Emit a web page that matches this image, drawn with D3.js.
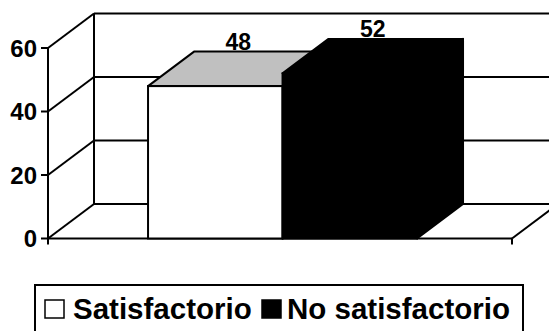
<!DOCTYPE html>
<html><head><meta charset="utf-8">
<script src="https://cdn.jsdelivr.net/npm/d3@7"></script>
<style>
html,body{margin:0;padding:0;background:#fff;overflow:hidden}
text{font-family:"Liberation Sans",Arial,sans-serif;font-weight:bold;fill:#000}
</style></head>
<body>
<svg id="c" width="549" height="331"></svg>
<script>
const categories = ["Resultado"];
const series = ["Satisfactorio", "No satisfactorio"];
const values = [48, 52];
const yTicks = [0, 20, 40, 60];
const seriesFront = ["#ffffff", "#000000"];
const seriesTop = ["#c0c0c0", "#000000"];
const seriesLegend = ["#ffffff", "#000000"];

const svg = d3.select("#c");
const frontL = 48, frontR = 512;
const dx = 46, dy = -34.5;

const y = d3.scaleLinear().domain([0, 60]).range([238.5, 48]);
const x0 = d3.scaleBand().domain(categories).range([frontL, frontR]).paddingInner(0).paddingOuter(0.3625).align(0.513);
const x1 = d3.scaleBand().domain(series).range([0, x0.bandwidth()]);

const g = svg.append("g");
const line = (x1_, y1_, x2_, y2_, sw) => g.append("line").attr("x1", x1_).attr("y1", y1_).attr("x2", x2_).attr("y2", y2_)
  .attr("stroke", "#000").attr("stroke-width", sw || 2);

// back wall gridlines
yTicks.forEach(t => line(frontL + dx, y(t) + dy, frontR + dx, y(t) + dy));
// back wall left vertical
line(frontL + dx, y(60) + dy, frontL + dx, y(0) + dy);
// left wall diagonals
yTicks.forEach(t => line(frontL, y(t), frontL + dx, y(t) + dy));
// front axis
line(frontL, y(60), frontL, y(0) + 6);
// ticks
yTicks.forEach(t => line(frontL - 7, y(t), frontL, y(t)));
// floor front & right edge
line(frontL, y(0), frontR, y(0));
line(frontR, y(0), frontR, y(0) + 6);
line(frontR, y(0), frontR + dx, y(0) + dy);

// tick labels
g.selectAll("text.tick").data(yTicks).enter().append("text")
  .attr("class", "tick")
  .attr("x", 37).attr("y", d => y(d)).attr("dy", "0.36em")
  .attr("text-anchor", "end").attr("font-size", 24)
  .text(d => d);

// bars
const cat = categories[0];
series.forEach((s, i) => {
  const xl = x0(cat) + x1(s), xr = xl + x1.bandwidth();
  const yt = y(values[i]), yb = y(0);
  const bg = g.append("g");
  bg.append("path").attr("d", `M${xr},${yb}L${xr},${yt}L${xr + dx},${yt + dy}L${xr + dx},${yb + dy}Z`)
    .attr("fill", seriesTop[i]).attr("stroke", "#000").attr("stroke-width", 2).attr("stroke-linejoin", "round");
  bg.append("path").attr("d", `M${xl},${yt}L${xr},${yt}L${xr + dx},${yt + dy}L${xl + dx},${yt + dy}Z`)
    .attr("fill", seriesTop[i]).attr("stroke", "#000").attr("stroke-width", 2).attr("stroke-linejoin", "round");
  bg.append("rect").attr("x", xl).attr("y", yt).attr("width", xr - xl).attr("height", yb - yt)
    .attr("fill", seriesFront[i]).attr("stroke", "#000").attr("stroke-width", 2);
});

// value labels
series.forEach((s, i) => {
  const xc = x0(cat) + x1(s) + x1.bandwidth() / 2 + dx / 2;
  g.append("text").attr("x", xc).attr("y", y(values[i]) + dy - 2)
    .attr("text-anchor", "middle").attr("font-size", 23).text(values[i]);
});

// legend
const lg = svg.append("g");
lg.append("rect").attr("x", 35).attr("y", 285).attr("width", 488).attr("height", 80)
  .attr("fill", "#fff").attr("stroke", "#000").attr("stroke-width", 2);
const legX = [45, 262];
series.forEach((s, i) => {
  lg.append("rect").attr("x", legX[i]).attr("y", 300).attr("width", 19).attr("height", 18)
    .attr("fill", seriesLegend[i]).attr("stroke", "#000").attr("stroke-width", 1.5);
  lg.append("text").attr("x", legX[i] + (i === 0 ? 28 : 25)).attr("y", 319).attr("font-size", 29.5).text(s);
});
</script>
</body></html>
